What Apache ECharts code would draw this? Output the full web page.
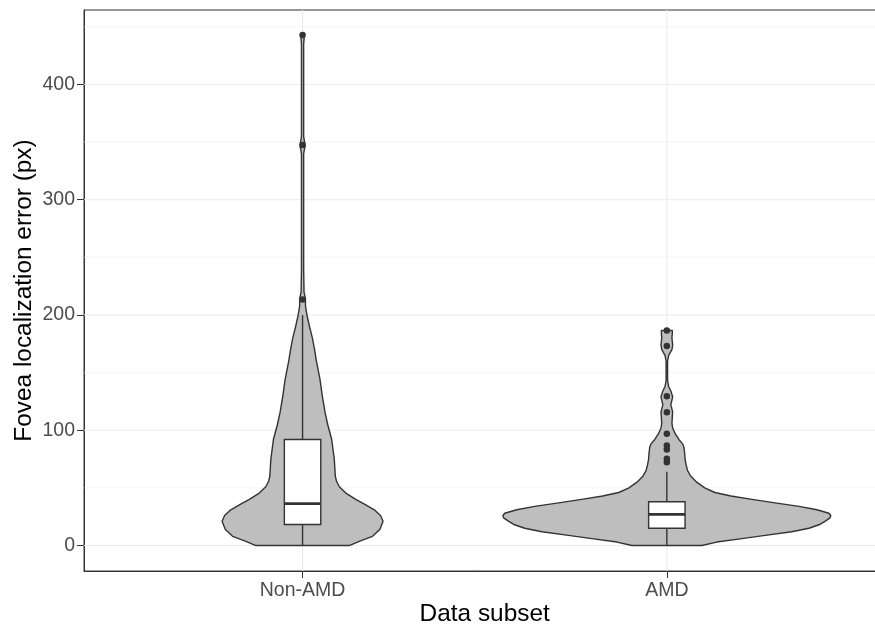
<!DOCTYPE html>
<html>
<head>
<meta charset="utf-8">
<script src="https://cdn.jsdelivr.net/npm/echarts@6/dist/echarts.min.js"></script>
<style>
html,body{margin:0;padding:0;background:#fff;}
#chart{width:875px;height:625px;}
</style>
</head>
<body>
<div id="chart"></div>
<script>
// ---- data ----
const categories = ['Non-AMD', 'AMD'];
const yTickValues = [0, 100, 200, 300, 400];
const yMinorGridValues = [50, 150, 250, 350, 450];

// violin outlines: value (px error) and half-width (x-axis units)
const nonAmdViolinY = [0, 4, 8, 14, 21, 26, 31, 36, 40, 45, 51, 56, 60, 75, 92, 105, 115, 130, 144, 160, 170, 180, 190, 200, 208, 214, 220, 240, 300, 340, 347, 355, 400, 435, 443];
const nonAmdViolinHalfWidth = [0.128, 0.159, 0.192, 0.212, 0.221, 0.214, 0.197, 0.170, 0.146, 0.121, 0.101, 0.093, 0.090, 0.087, 0.080, 0.069, 0.062, 0.054, 0.048, 0.038, 0.033, 0.027, 0.019, 0.012, 0.008, 0.008, 0.004, 0.003, 0.003, 0.003, 0.007, 0.003, 0.003, 0.003, 0.005];

const amdViolinY = [0, 3, 6, 9, 12, 15, 18, 21, 24, 26, 28, 31, 34, 37, 40, 43, 46, 50, 55, 60, 65, 70, 75, 80, 85, 88, 92, 97, 102, 106, 111, 116, 122, 129, 134, 138, 143, 160, 165, 170, 174, 180, 184, 186.5];
const amdViolinHalfWidth = [0.096, 0.137, 0.206, 0.275, 0.343, 0.390, 0.418, 0.434, 0.448, 0.450, 0.445, 0.412, 0.363, 0.297, 0.234, 0.176, 0.132, 0.104, 0.082, 0.066, 0.057, 0.053, 0.050, 0.049, 0.047, 0.044, 0.033, 0.023, 0.016, 0.014, 0.015, 0.016, 0.011, 0.016, 0.011, 0.005, 0.002, 0.002, 0.005, 0.014, 0.016, 0.014, 0.015, 0.015];

// boxplot: [lower whisker, Q1, median, Q3, upper whisker]
const nonAmdBox = [0, 18.2, 36.4, 92, 200];
const amdBox = [0, 15, 27, 38, 64];

const nonAmdOutliers = [213.5, 347.4, 443];
const amdOutliers = [72.3, 75.2, 83.3, 86.8, 96.9, 115.7, 129.6, 173, 186.5];

// ---- chart ----
const FONT = "'Liberation Sans', Arial, sans-serif";
const Y_MIN = -22.1, Y_MAX = 464.6, X_MIN = 0.4, X_MAX = 2.6;
const violins = [
  { x: 1, ys: nonAmdViolinY, hw: nonAmdViolinHalfWidth },
  { x: 2, ys: amdViolinY, hw: amdViolinHalfWidth }
];
const boxes = [
  { x: 1, b: nonAmdBox },
  { x: 2, b: amdBox }
];
const BOX_HALF = 0.05;

const chart = echarts.init(document.getElementById('chart'), null, { renderer: 'canvas' });

const gridLines = [];
yTickValues.forEach(v => gridLines.push({ value: [0, v], kind: 'h', w: 1.07 }));
yMinorGridValues.forEach(v => gridLines.push({ value: [0, v], kind: 'h', w: 0.55 }));
[1, 2].forEach(v => gridLines.push({ value: [v, 0], kind: 'v', w: 1.07 }));

chart.setOption({
  animation: false,
  backgroundColor: '#ffffff',
  textStyle: { fontFamily: FONT },
  grid: {
    left: 84, top: 10, right: -10.4, bottom: 54,
    containLabel: false, outerBoundsMode: 'none',
    show: true, borderColor: '#333333', borderWidth: 1, backgroundColor: '#ffffff'
  },
  xAxis: {
    type: 'value', min: X_MIN, max: X_MAX,
    name: 'Data subset', nameLocation: 'middle', nameGap: 31, nameMoveOverlap: false,
    nameTextStyle: { fontSize: 24.4, color: '#000000', fontFamily: FONT },
    axisLine: { show: true, onZero: false, lineStyle: { color: '#333333', width: 1 } },
    axisTick: { show: true, length: 7, customValues: [1, 2], lineStyle: { color: '#333333', width: 1 } },
    axisLabel: {
      customValues: [1, 2], margin: 10, fontSize: 19.5, color: '#4D4D4D', fontFamily: FONT,
      formatter: v => categories[Math.round(v) - 1] || ''
    },
    splitLine: { show: false }
  },
  yAxis: {
    type: 'value', min: Y_MIN, max: Y_MAX,
    name: 'Fovea localization error (px)', nameLocation: 'middle', nameGap: 48, nameRotate: 90, nameMoveOverlap: false,
    nameTextStyle: { fontSize: 24.4, color: '#000000', fontFamily: FONT },
    axisLine: { show: true, onZero: false, lineStyle: { color: '#333333', width: 1 } },
    axisTick: { show: true, length: 7, customValues: yTickValues, lineStyle: { color: '#333333', width: 1 } },
    axisLabel: { customValues: yTickValues, margin: 9, fontSize: 19.5, color: '#4D4D4D', fontFamily: FONT },
    splitLine: { show: false }
  },
  series: [
    {
      type: 'custom', name: 'grid', silent: true, z: 1,
      data: gridLines.map(g => g.value),
      renderItem: function (params, api) {
        const g = gridLines[params.dataIndex];
        let p1, p2;
        if (g.kind === 'h') {
          p1 = api.coord([X_MIN, g.value[1]]); p2 = api.coord([X_MAX, g.value[1]]);
        } else {
          p1 = api.coord([g.value[0], Y_MIN]); p2 = api.coord([g.value[0], Y_MAX]);
        }
        return { type: 'line', shape: { x1: p1[0], y1: p1[1], x2: p2[0], y2: p2[1] },
          style: { stroke: '#EBEBEB', lineWidth: g.w } };
      }
    },
    {
      type: 'custom', name: 'violin', z: 2,
      data: violins.map(v => [v.x, 0]),
      renderItem: function (params, api) {
        const v = violins[params.dataIndex];
        const pts = [];
        for (let i = 0; i < v.ys.length; i++) pts.push(api.coord([v.x + v.hw[i], v.ys[i]]));
        for (let i = v.ys.length - 1; i >= 0; i--) pts.push(api.coord([v.x - v.hw[i], v.ys[i]]));
        return { type: 'polygon', shape: { points: pts, smooth: 0 },
          style: { fill: '#BEBEBE', stroke: '#333333', lineWidth: 1.4, lineJoin: 'round' } };
      }
    },
    {
      type: 'custom', name: 'box', z: 3,
      data: boxes.map(b => [b.x, b.b[2]]),
      renderItem: function (params, api) {
        const bx = boxes[params.dataIndex];
        const b = bx.b;
        const wLo = api.coord([bx.x, b[0]]), q1 = api.coord([bx.x, b[1]]), q3 = api.coord([bx.x, b[3]]), wHi = api.coord([bx.x, b[4]]);
        const left = api.coord([bx.x - BOX_HALF, b[2]]), right = api.coord([bx.x + BOX_HALF, b[2]]);
        const med = api.coord([bx.x, b[2]]);
        const st = { stroke: '#333333', lineWidth: 1.4 };
        return { type: 'group', children: [
          { type: 'line', shape: { x1: wLo[0], y1: wLo[1], x2: q1[0], y2: q1[1] }, style: st },
          { type: 'line', shape: { x1: q3[0], y1: q3[1], x2: wHi[0], y2: wHi[1] }, style: st },
          { type: 'rect', shape: { x: left[0], y: q3[1], width: right[0] - left[0], height: q1[1] - q3[1] },
            style: { fill: '#ffffff', stroke: '#333333', lineWidth: 1.4 } },
          { type: 'line', shape: { x1: left[0], y1: med[1], x2: right[0], y2: med[1] },
            style: { stroke: '#333333', lineWidth: 2.8 } }
        ] };
      }
    },
    {
      type: 'scatter', name: 'outliers Non-AMD', z: 4, symbolSize: 6.5,
      itemStyle: { color: '#333333', opacity: 1 },
      data: nonAmdOutliers.map(v => [1, v])
    },
    {
      type: 'scatter', name: 'outliers AMD', z: 4, symbolSize: 6.5,
      itemStyle: { color: '#333333', opacity: 1 },
      data: amdOutliers.map(v => [2, v])
    }
  ]
});
</script>
</body>
</html>
